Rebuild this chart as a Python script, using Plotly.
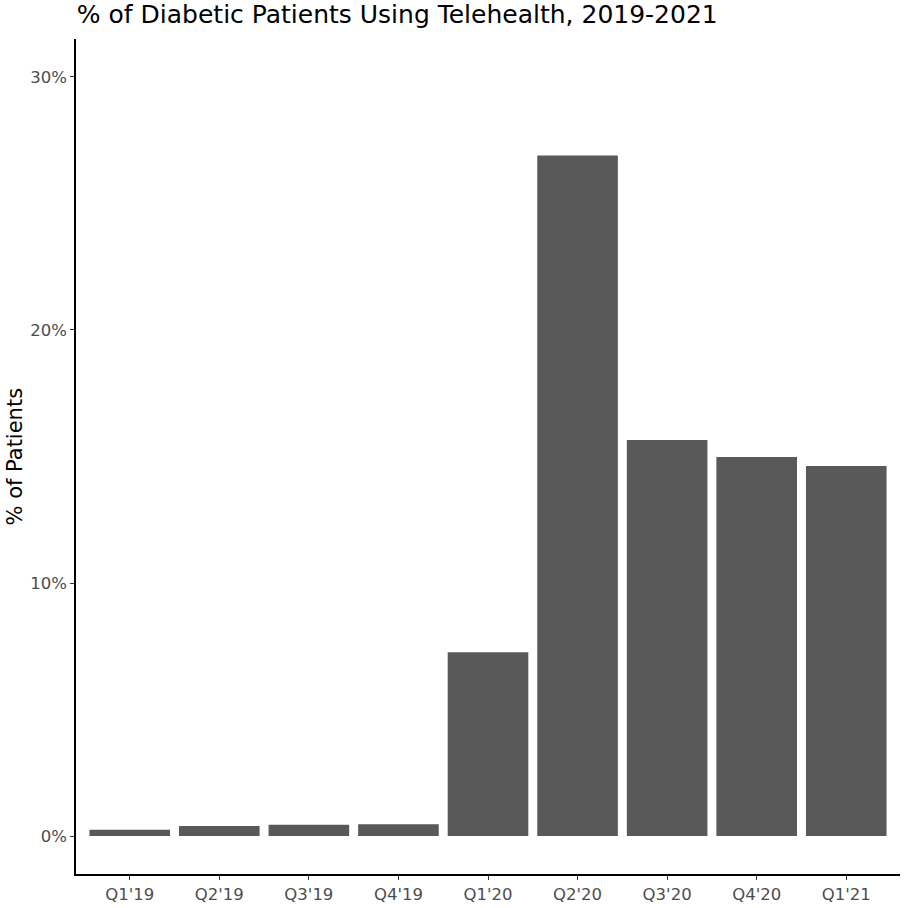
import plotly.graph_objects as go

quarters = ["Q1'19", "Q2'19", "Q3'19", "Q4'19", "Q1'20", "Q2'20", "Q3'20", "Q4'20", "Q1'21"]
pct_patients = [0.25, 0.40, 0.45, 0.47, 7.26, 26.9, 15.65, 14.98, 14.62]
y_ticks = [0, 10, 20, 30]
y_tick_labels = ["0%", "10%", "20%", "30%"]

W, H = 910, 908
L, R, T, B = 76, 10, 39, 34

fig = go.Figure(go.Bar(
    x=list(range(len(quarters))), y=pct_patients,
    marker=dict(color="#595959", line=dict(width=0)),
    width=0.9,
))

fig.update_layout(
    width=W, height=H,
    paper_bgcolor="white", plot_bgcolor="white",
    margin=dict(l=L, r=R, t=T, b=B, autoexpand=False),
    font=dict(family="DejaVu Sans", color="#4d4d4d"),
    showlegend=False,
    title=dict(text="% of Diabetic Patients Using Telehealth, 2019-2021",
               x=0.001, xref="paper", xanchor="left",
               y=1 - 5.5/H, yref="container", yanchor="top",
               font=dict(size=25, color="black", family="DejaVu Sans")),
)

fig.update_xaxes(
    range=[-0.6, 8.6], tickvals=list(range(len(quarters))), ticktext=quarters,
    showline=True, linecolor="black", linewidth=1.5,
    ticks="outside", ticklen=4, tickcolor="#333333", tickwidth=1.2,
    showgrid=False, zeroline=False, automargin=False,
    tickfont=dict(size=16.5, color="#4d4d4d"),
)
fig.update_yaxes(
    range=[-1.5, 31.5], tickvals=y_ticks, ticktext=y_tick_labels,
    showline=True, linecolor="black", linewidth=1.5,
    ticks="outside", ticklen=4, tickcolor="#333333", tickwidth=1.2,
    showgrid=False, zeroline=False, automargin=False,
    tickfont=dict(size=16.5, color="#4d4d4d"),
)
fig.add_annotation(
    text="% of Patients", textangle=-90,
    xref="paper", yref="paper", x=-(L - 14) / (W - L - R), y=0.5,
    xanchor="center", yanchor="middle", showarrow=False,
    font=dict(size=21, color="black", family="DejaVu Sans"),
)

fig.write_html(
    "out.html",
    config={"displayModeBar": False},
    post_script="document.body.style.margin='0';document.body.style.overflow='hidden';",
)
